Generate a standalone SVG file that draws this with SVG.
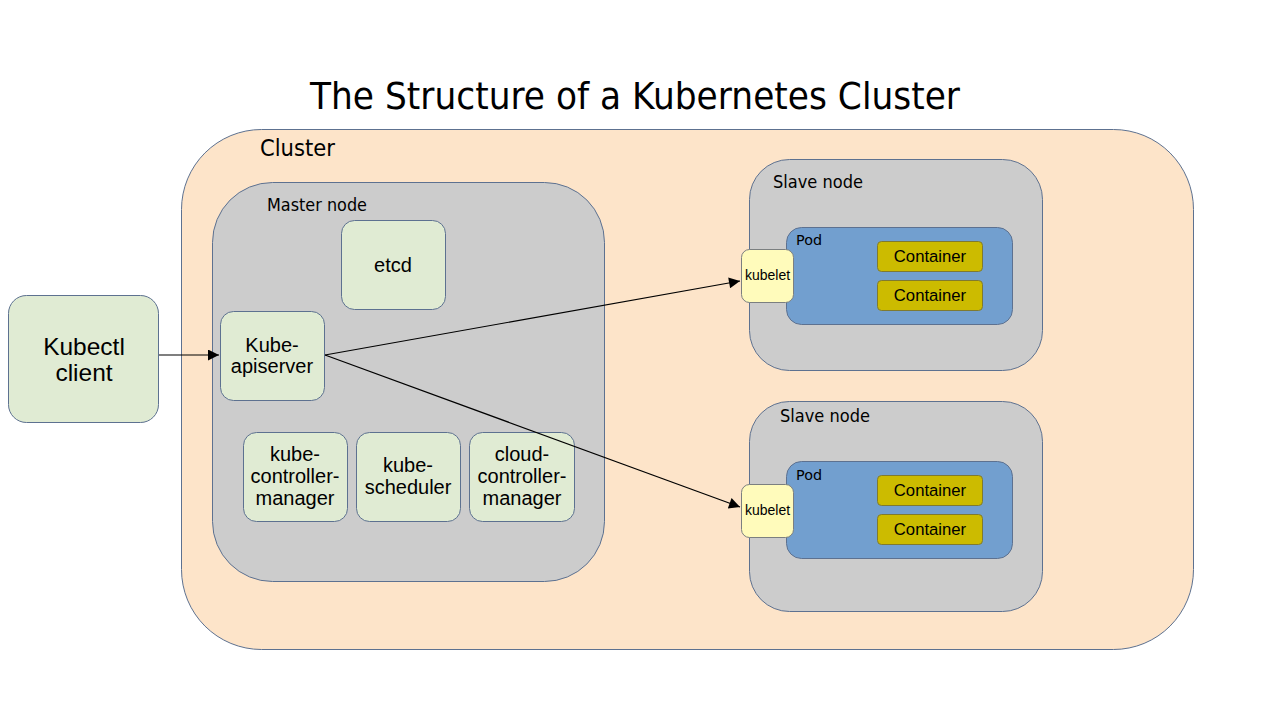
<svg xmlns="http://www.w3.org/2000/svg" width="1280" height="720" viewBox="0 0 1280 720">
<style>
.title{font-family:"DejaVu Sans",sans-serif;font-size:38px;fill:#000}
.lbl{font-family:"DejaVu Sans",sans-serif;fill:#000}
.t{font-family:"Liberation Sans",Arial,sans-serif;fill:#000;text-anchor:middle}
.box{stroke:#5d7190;stroke-width:1}
.green{fill:#e0ebd3}
.cont{fill:#ccbb00;stroke:#7f7a30;stroke-width:1}
.kub{fill:#fffbbb;stroke:#7b7f80;stroke-width:1}
.conn{stroke:#000;stroke-width:1.2;fill:none}
</style>
<defs>
<marker id="arr" viewBox="0 0 10 10" refX="10" refY="5" markerWidth="18" markerHeight="11" markerUnits="userSpaceOnUse" orient="auto">
<path d="M0,0 L10,5 L0,10 z" fill="#000"/>
</marker>
</defs>
<rect width="1280" height="720" fill="#fff"/>
<text class="title" x="635" y="109" text-anchor="middle" textLength="650" lengthAdjust="spacingAndGlyphs">The Structure of a Kubernetes Cluster</text>

<g id="cluster">
<rect class="box" x="181.5" y="129.5" width="1012" height="520" rx="80" fill="#fde4c9"/>
<text class="lbl" x="260" y="156" font-size="23" textLength="75" lengthAdjust="spacingAndGlyphs">Cluster</text>
</g>

<g id="master">
<rect class="box" x="212.5" y="182.5" width="392" height="399" rx="60" fill="#cccccc"/>
<text class="lbl" x="267" y="211" font-size="17" textLength="100" lengthAdjust="spacingAndGlyphs">Master node</text>
</g>

<g id="etcd">
<rect class="box green" x="341.5" y="220.5" width="104" height="89" rx="13"/>
<text class="t" x="393" y="272" font-size="20">etcd</text>
</g>

<g id="apiserver">
<rect class="box green" x="220.5" y="311.5" width="104" height="89" rx="13"/>
<text class="t" x="272" y="352" font-size="20">Kube-</text>
<text class="t" x="272" y="373" font-size="20">apiserver</text>
</g>

<g id="controller">
<rect class="box green" x="243.5" y="432.5" width="104" height="89" rx="13"/>
<text class="t" x="295" y="461" font-size="20">kube-</text>
<text class="t" x="295" y="483" font-size="20">controller-</text>
<text class="t" x="295" y="505" font-size="20">manager</text>
</g>

<g id="scheduler">
<rect class="box green" x="356.5" y="432.5" width="104" height="89" rx="13"/>
<text class="t" x="408" y="472" font-size="20">kube-</text>
<text class="t" x="408" y="494" font-size="20">scheduler</text>
</g>

<g id="cloud">
<rect class="box green" x="469.5" y="432.5" width="105" height="89" rx="13"/>
<text class="t" x="522" y="461" font-size="20">cloud-</text>
<text class="t" x="522" y="483" font-size="20">controller-</text>
<text class="t" x="522" y="505" font-size="20">manager</text>
</g>

<g id="kubectl">
<rect class="box green" x="8.5" y="295.5" width="150" height="127" rx="18"/>
<text class="t" x="84" y="355" font-size="24.5">Kubectl</text>
<text class="t" x="84" y="381" font-size="24.5">client</text>
</g>

<g id="slave1">
<rect class="box" x="749.5" y="159.5" width="293" height="211" rx="40" fill="#cccccc"/>
<text class="lbl" x="773" y="188" font-size="17" textLength="90" lengthAdjust="spacingAndGlyphs">Slave node</text>
<rect class="box" x="786.5" y="227.5" width="226" height="97" rx="15" fill="#729fcf"/>
<text class="lbl" x="796" y="245" font-size="14" textLength="26" lengthAdjust="spacingAndGlyphs">Pod</text>
<rect class="cont" x="877.5" y="241.5" width="105" height="30" rx="4"/>
<text class="t" x="930" y="262" font-size="16.7">Container</text>
<rect class="cont" x="877.5" y="280.5" width="105" height="30" rx="4"/>
<text class="t" x="930" y="301" font-size="16.7">Container</text>
<rect class="kub" x="741.5" y="249.5" width="52" height="53" rx="8"/>
<text class="t" x="767.5" y="280" font-size="14">kubelet</text>
</g>

<g id="slave2">
<rect class="box" x="749.5" y="401.5" width="293" height="210" rx="40" fill="#cccccc"/>
<text class="lbl" x="780" y="422" font-size="17" textLength="90" lengthAdjust="spacingAndGlyphs">Slave node</text>
<rect class="box" x="786.5" y="461.5" width="226" height="97" rx="15" fill="#729fcf"/>
<text class="lbl" x="796" y="480" font-size="14" textLength="26" lengthAdjust="spacingAndGlyphs">Pod</text>
<rect class="cont" x="877.5" y="475.5" width="105" height="30" rx="4"/>
<text class="t" x="930" y="496" font-size="16.7">Container</text>
<rect class="cont" x="877.5" y="514.5" width="105" height="30" rx="4"/>
<text class="t" x="930" y="535" font-size="16.7">Container</text>
<rect class="kub" x="741.5" y="484.5" width="52" height="53" rx="8"/>
<text class="t" x="767.5" y="515" font-size="14">kubelet</text>
</g>

<g id="connectors">
<line class="conn" x1="159" y1="355" x2="219" y2="355" marker-end="url(#arr)"/>
<line class="conn" x1="325" y1="355" x2="740" y2="281" marker-end="url(#arr)"/>
<line class="conn" x1="325" y1="355" x2="740" y2="507" marker-end="url(#arr)"/>
</g>
</svg>
